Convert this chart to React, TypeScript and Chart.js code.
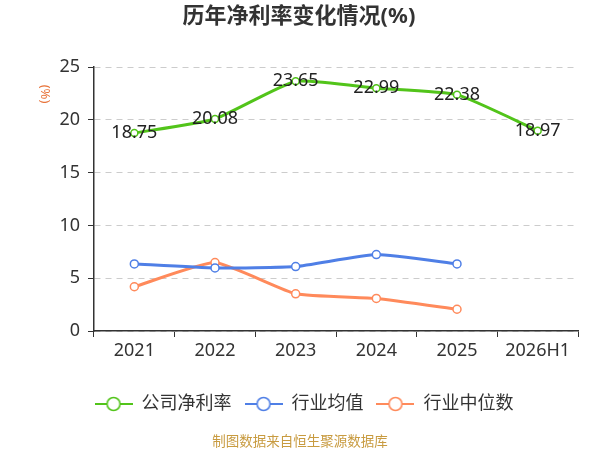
import React, { useEffect, useRef } from 'react';
import { Chart, registerables } from 'chart.js';

Chart.register(...registerables);

const categories = ['2021', '2022', '2023', '2024', '2025', '2026H1'];
const companyMargin = [18.75, 20.08, 23.65, 22.99, 22.38, 18.97];
const industryAvg = [6.35, 5.97, 6.1, 7.24, 6.35, null];
const industryMedian = [4.19, 6.48, 3.52, 3.08, 2.06, null];
const seriesNames = ['公司净利率', '行业均值', '行业中位数'];
const seriesColors = ['#52c41a', '#4f7fe6', '#ff8a5b'];
const yMin = 0;
const yMax = 25;
const yStep = 5;

const FONT = '"Noto Sans", "Noto Sans CJK SC", sans-serif';

// legend symbol: a short line with a hollow circle in the middle
function makeSymbol(color: string): HTMLCanvasElement {
  const c = document.createElement('canvas');
  c.width = 38;
  c.height = 16;
  const ctx = c.getContext('2d')!;
  ctx.strokeStyle = color;
  ctx.lineWidth = 2;
  ctx.beginPath();
  ctx.moveTo(0, 8);
  ctx.lineTo(38, 8);
  ctx.stroke();
  ctx.beginPath();
  ctx.arc(19, 8, 6.5, 0, Math.PI * 2);
  ctx.fillStyle = '#fff';
  ctx.fill();
  ctx.lineWidth = 1.6;
  ctx.stroke();
  return c;
}

const textPlugin = {
  id: 'texts',
  afterDraw(chart: any) {
    const ctx = chart.ctx as CanvasRenderingContext2D;
    ctx.save();
    // title
    ctx.fillStyle = '#333';
    ctx.font = `bold 22px ${FONT}`;
    ctx.textAlign = 'center';
    ctx.textBaseline = 'middle';
    ctx.fillText('历年净利率变化情况(%)', 299, 17);

    // unit
    ctx.save();
    ctx.translate(45, 94);
    ctx.rotate(Math.PI / 2);
    ctx.fillStyle = '#e8743b';
    ctx.font = `13px ${FONT}`;
    ctx.fillText('(%)', 0, 0);
    ctx.restore();

    // value labels on company line
    const meta = chart.getDatasetMeta(0);
    ctx.fillStyle = '#222';
    ctx.font = `18px ${FONT}`;
    meta.data.forEach((pt: any, i: number) => {
      ctx.fillText(companyMargin[i].toFixed(2), pt.x, pt.y);
    });

    // source
    ctx.fillStyle = '#c89b40';
    ctx.font = `13.5px ${FONT}`;
    ctx.fillText('制图数据来自恒生聚源数据库', 300, 442);
    ctx.restore();
  },
};

const App: React.FC = () => {
  const canvasRef = useRef<HTMLCanvasElement>(null);
  const chartRef = useRef<Chart | null>(null);

  useEffect(() => {
    document.body.style.margin = '0';
    if (!canvasRef.current) return;
    if (chartRef.current) chartRef.current.destroy();

    const symbols = seriesColors.map(makeSymbol);
    const seriesData = [companyMargin, industryAvg, industryMedian];

    chartRef.current = new Chart(canvasRef.current, {
      type: 'line',
      data: {
        labels: categories,
        datasets: seriesData.map((d, i) => ({
          label: seriesNames[i],
          data: d,
          borderColor: seriesColors[i],
          backgroundColor: '#fff',
          borderWidth: 3,
          pointRadius: i === 0 ? 3.5 : 4,
          pointBorderWidth: 1.5,
          pointBackgroundColor: '#fff',
          pointBorderColor: seriesColors[i],
          tension: 0.15,
          spanGaps: false,
        })),
      },
      options: {
        responsive: false,
        animation: false,
        layout: { padding: { top: 67, left: 30, right: 22, bottom: 27 } },
        scales: {
          x: {
            offset: true,
            grid: {
              offset: true,
              drawOnChartArea: false,
              tickLength: 6,
              tickColor: '#333',
            },
            border: { color: '#333', width: 1.5 },
            ticks: { color: '#333', font: { size: 18, family: FONT }, padding: 3 },
            afterFit: (s: any) => {
              s.height = 51;
            },
          },
          y: {
            min: yMin,
            max: yMax,
            ticks: { stepSize: yStep, color: '#333', font: { size: 18, family: FONT }, padding: 8 },
            grid: { color: '#cccccc', tickColor: '#333', tickLength: 6 },
            border: { color: '#333', width: 1.5, dash: [6, 5] },
            afterFit: (s: any) => {
              s.width = 64;
            },
          },
        },
        plugins: {
          title: { display: false },
          tooltip: { enabled: false },
          legend: {
            position: 'bottom',
            labels: {
              color: '#333',
              font: { size: 18, family: FONT },
              usePointStyle: true,
              pointStyleWidth: 38,
              boxHeight: 16,
              padding: 13,
              generateLabels: (chart: any) =>
                Chart.defaults.plugins.legend.labels
                  .generateLabels(chart)
                  .map((l: any, i: number) => ({ ...l, pointStyle: symbols[i] })),
            },
          },
        },
      },
      plugins: [textPlugin],
    });

    return () => {
      if (chartRef.current) {
        chartRef.current.destroy();
        chartRef.current = null;
      }
    };
  }, []);

  return (
    <div style={{ width: 600, height: 450 }}>
      <canvas ref={canvasRef} width={600} height={450}></canvas>
    </div>
  );
};

export default App;
